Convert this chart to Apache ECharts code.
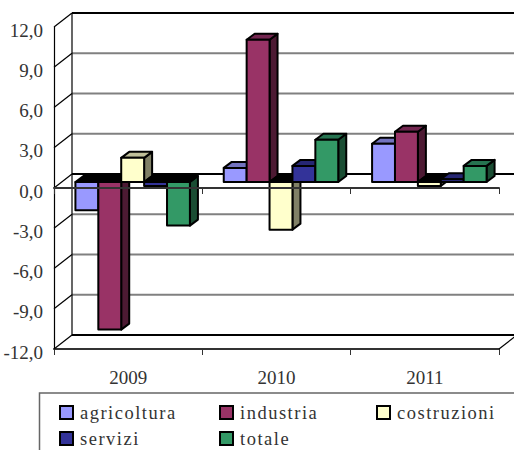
<!DOCTYPE html>
<html><head><meta charset="utf-8">
<style>
html,body{margin:0;padding:0;background:#fff}
#c{width:514px;height:450px}
#c text[style*="18.5px"]{letter-spacing:1.5px}
</style>
<script src="https://cdn.jsdelivr.net/npm/echarts@6/dist/echarts.min.js"></script>
</head><body><div id="c"></div>
<script>
const categories = ['2009','2010','2011'];
const seriesNames = ['agricoltura','industria','costruzioni','servizi','totale'];
const agricoltura = [-2.1, 1.05, 2.85];
const industria   = [-11.0, 10.6, 3.75];
const costruzioni = [1.8, -3.55, -0.3];
const servizi     = [-0.3, 1.2, 0.2];
const totale      = [-3.25, 3.15, 1.2];
const yTicks = [-12,-9,-6,-3,0,3,6,9,12];
const front = ['#9999FF','#993366','#FFFFCC','#333399','#339966'];
const topc  = ['#7373BF','#732650','#BFBF99','#262673','#267350'];
const side  = ['#4D4D80','#4D1A33','#808066','#1A1A4D','#1A4D33'];
const seriesValues = [agricoltura,industria,costruzioni,servizi,totale];
const DX=18, DY=-14, BW=22.9, BDX=8, BDY=-6, SHIFT=4.5;
const chart = echarts.init(document.getElementById('c'),null,{renderer:'svg'});
function barItem(si){
  return function(params,api){
    const cat=api.value(0), v=api.value(1);
    const base=api.coord([cat,0]), end=api.coord([cat,v]);
    const x0=base[0]+(si-2.5)*BW+SHIFT, x1=x0+BW;
    const yb=base[1]+BDY, ye=end[1]+BDY;
    const yt=Math.min(yb,ye), yd=Math.max(yb,ye);
    const st={stroke:'#000',lineWidth:2,lineJoin:'round'};
    return {type:'group',children:[
      {type:'polygon',shape:{points:[[x1,yt],[x1+BDX,yt+BDY],[x1+BDX,yd+BDY],[x1,yd]]},style:{fill:side[si],...st}},
      {type:'polygon',shape:{points:[[x0,yt],[x0+BDX,yt+BDY],[x1+BDX,yt+BDY],[x1,yt]]},style:{fill:v<0?'#000':topc[si],...st}},
      {type:'rect',shape:{x:x0,y:yt,width:BW,height:yd-yt},style:{fill:front[si],...st}}
    ]};
  };
}
function wallItem(params,api){
  const v=api.value(0), c=params.coordSys;
  const y=api.coord([0,v])[1];
  const heavy=(v===12||v===0||v===-12);
  const ln=(x1,y1,x2,y2,col,w)=>({type:'line',shape:{x1,y1,x2,y2},style:{stroke:col,lineWidth:w}});
  const kids=[
    ln(c.x,y,c.x+DX,y+DY,'#000',1.2),
    ln(c.x+DX,y+DY,c.x+c.width+DX,y+DY,heavy?'#000':'#808080',2)
  ];
  if(v===12) kids.push(ln(c.x+DX,y+DY,c.x+DX,api.coord([0,-12])[1]+DY,'#000',1.2));
  if(v===-12) kids.push(ln(c.x+c.width,y,c.x+c.width+DX,y+DY,'#000',1.2));
  return {type:'group',children:kids};
}
const legendPos=[[59,403],[219,403],[376,403],[59,429],[219,429]];
const option={
  animation:false,
  backgroundColor:'#fff',
  textStyle:{fontFamily:'"Liberation Serif"'},
  grid:{left:54,right:15,top:27,bottom:101,containLabel:false},
  xAxis:[
    {type:'category',data:categories,position:'bottom',z:6,axisLine:{onZero:true,lineStyle:{color:'#333',width:2}},
     axisTick:{show:true,length:6,lineStyle:{color:'#333',width:1},alignWithLabel:false},axisLabel:{show:false},splitLine:{show:false}},
    {type:'category',data:categories,position:'bottom',axisLine:{onZero:false,lineStyle:{color:'#333',width:2}},
     axisTick:{show:true,length:6,lineStyle:{color:'#333',width:1}},axisLabel:{fontSize:19,color:'#333',margin:19,fontFamily:'"Liberation Serif"'},splitLine:{show:false}}
  ],
  yAxis:{type:'value',min:-12,max:12,interval:3,
    axisLine:{show:true,onZero:false,lineStyle:{color:'#000',width:1.2}},axisTick:{show:false},splitLine:{show:false},
    axisLabel:{fontSize:19,color:'#333',margin:11,verticalAlign:'top',lineHeight:6,fontFamily:'"Liberation Serif"',formatter:v=>v.toFixed(1).replace('.',',')}},
  legend:seriesNames.map((n,i)=>({data:[n],left:legendPos[i][0],top:legendPos[i][1],itemWidth:13,itemHeight:13,itemGap:7,padding:0,
    icon:'rect',selectedMode:false,itemStyle:{borderColor:'#000',borderWidth:2},
    textStyle:{fontSize:18.5,color:'#333',padding:[6,0,0,2],fontFamily:'"Liberation Serif"'}})),
  graphic:[{type:'polyline',silent:true,z:0,shape:{points:[[39.5,450],[39.5,393],[514,393]]},style:{fill:'none',stroke:'#666',lineWidth:1.5}}],
  series:[
    {type:'custom',name:'walls',xAxisIndex:0,z:1,clip:false,silent:true,encode:{y:0},data:yTicks.map(v=>[v]),renderItem:wallItem},
    ...seriesNames.map((n,si)=>({type:'custom',name:n,xAxisIndex:0,z:3,clip:false,silent:true,
      itemStyle:{color:front[si]},encode:{x:0,y:1},
      data:categories.map((c,ci)=>[ci,seriesValues[si][ci]]),renderItem:barItem(si)}))
  ]
};
chart.setOption(option);
</script></body></html>
